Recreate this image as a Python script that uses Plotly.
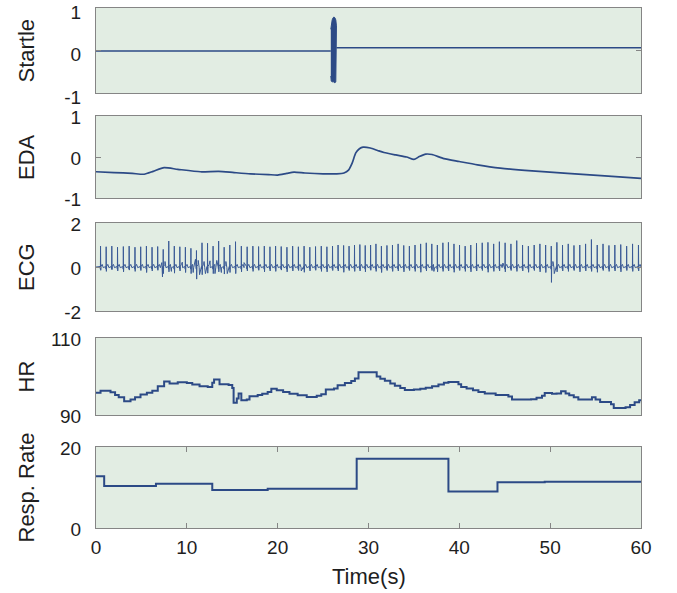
import plotly.graph_objects as go

# ---------------- data ----------------
# Startle: baseline segments and the burst envelope
startle_pre_t = [0, 25.85]
startle_pre_v = [-0.01, -0.01]
startle_post_t = [26.47, 60]
startle_post_v = [0.065, 0.065]
burst_t = [25.85, 25.9, 26.0, 26.1, 26.2, 26.3, 26.4, 26.47]
burst_up = [0.50, 0.62, 0.72, 0.77, 0.79, 0.77, 0.72, 0.58]
burst_lo = [-0.60, -0.72, -0.74, -0.73, -0.75, -0.76, -0.74, -0.65]

# EDA
eda_t = [0, 2, 4, 5.3, 6.3, 7.5, 9, 11.5, 13.5, 15.2, 17, 19, 20, 21, 21.8, 23, 25,
         26.5, 27.3, 27.8, 28.2, 28.6, 29.0, 29.4, 30.2, 31.0, 31.7, 33, 34.2, 35.0,
         35.6, 36.3, 37.0, 38.3, 40, 42, 44.5, 48, 51.9, 56, 60]
eda_v = [-0.36, -0.38, -0.40, -0.42, -0.35, -0.26, -0.30, -0.36, -0.35, -0.38, -0.41,
         -0.43, -0.44, -0.40, -0.37, -0.39, -0.41, -0.41, -0.39, -0.32, -0.15, 0.10,
         0.20, 0.24, 0.22, 0.16, 0.11, 0.05, 0.00, -0.06, 0.01, 0.07, 0.06, -0.04,
         -0.11, -0.19, -0.27, -0.34, -0.40, -0.46, -0.52]

# ECG: R-peak times, R amplitudes, S depths, and artifact points
beat_t = [0.50, 1.12, 1.74, 2.37, 3.01, 3.65, 4.29, 4.92, 5.55, 6.17, 6.79, 7.40, 8.01,
          8.62, 9.23, 9.84, 10.45, 11.06, 11.67, 12.28, 12.89, 13.50, 14.11, 14.73,
          15.36, 16.00, 16.64, 17.27, 17.90, 18.53, 19.15, 19.77, 20.39, 21.02, 21.65,
          22.28, 22.91, 23.54, 24.17, 24.80, 25.42, 26.04, 26.65, 27.26, 27.86, 28.46,
          29.05, 29.64, 30.23, 30.82, 31.42, 32.03, 32.64, 33.26, 33.88, 34.50, 35.12,
          35.74, 36.36, 36.97, 37.58, 38.19, 38.80, 39.41, 40.02, 40.64, 41.26, 41.89,
          42.52, 43.15, 43.78, 44.41, 45.04, 45.68, 46.32, 46.96, 47.60, 48.24, 48.87,
          49.50, 50.12, 50.74, 51.36, 51.99, 52.62, 53.26, 53.90, 54.54, 55.18, 55.82,
          56.47, 57.12, 57.77, 58.42, 59.07, 59.72]
beat_amp = [0.95, 0.92, 0.95, 0.90, 0.93, 0.95, 0.90, 0.92, 0.95, 0.90, 0.93, 0.80, 1.18,
            0.95, 0.92, 0.90, 0.85, 0.75, 1.10, 1.08, 0.95, 1.18, 0.90, 1.00, 1.15, 0.95,
            0.92, 0.95, 0.93, 0.95, 0.92, 0.95, 0.93, 0.90, 0.95, 0.92, 0.95, 0.90, 0.93,
            0.95, 0.92, 0.95, 1.00, 0.98, 0.95, 1.00, 1.02, 0.98, 1.00, 1.05, 0.95, 0.98,
            1.00, 1.05, 0.98, 0.95, 1.00, 1.05, 1.10, 1.05, 1.00, 1.10, 1.12, 1.05, 1.00,
            0.95, 1.00, 1.08, 1.10, 1.12, 1.05, 1.15, 1.10, 1.05, 1.20, 1.00, 0.95, 1.00,
            1.05, 1.00, 0.95, 1.12, 1.00, 1.05, 0.98, 1.00, 1.05, 1.25, 1.00, 1.05, 0.98,
            1.00, 1.02, 0.95, 1.05, 1.00]
beat_s = [0.15, 0.20, 0.12, 0.18, 0.22, 0.14, 0.20, 0.16, 0.25, 0.18, 0.15, 0.30, 0.22,
          0.28, 0.18, 0.25, 0.30, 0.55, 0.35, 0.28, 0.30, 0.22, 0.32, 0.25, 0.30, 0.22,
          0.18, 0.20, 0.15, 0.22, 0.18, 0.20, 0.14, 0.22, 0.18, 0.16, 0.24, 0.18, 0.15,
          0.20, 0.22, 0.16, 0.18, 0.24, 0.16, 0.20, 0.18, 0.22, 0.15, 0.20, 0.25, 0.16,
          0.20, 0.18, 0.22, 0.16, 0.20, 0.24, 0.18, 0.16, 0.22, 0.20, 0.18, 0.24, 0.16,
          0.20, 0.22, 0.18, 0.16, 0.24, 0.20, 0.18, 0.22, 0.16, 0.20, 0.18, 0.24, 0.16,
          0.22, 0.25, 0.70, 0.22, 0.18, 0.20, 0.16, 0.22, 0.18, 0.20, 0.24, 0.16, 0.20,
          0.18, 0.22, 0.16, 0.20, 0.18]
art_t = [7.25, 7.32, 7.60, 8.30, 9.50, 10.70, 10.95, 11.25, 11.40, 11.90, 12.05, 12.55,
         13.10, 13.30, 13.80, 14.30, 14.45, 16.30, 22.60, 37.20, 44.80, 50.30, 50.45]
art_v = [0.20, -0.45, 0.25, -0.20, 0.22, -0.25, 0.35, 0.30, -0.35, 0.25, -0.30, 0.28,
         -0.30, 0.30, -0.25, 0.25, -0.30, 0.20, -0.18, -0.20, 0.18, 0.25, -0.30]

# Heart rate (step)
hr_t = [0, 0.5, 1.6, 2.1, 2.5, 3.1, 3.8, 4.3, 4.9, 5.6, 6.2, 6.8, 7.5, 8.1, 9.0, 10.0,
        10.6, 11.4, 12.3, 12.8, 13.0, 13.6, 14.6, 15.0, 15.15, 15.5, 15.7, 16.0, 16.6,
        16.9, 17.8, 18.3, 18.9, 19.3, 19.9, 20.6, 21.3, 22.2, 23.2, 24.3, 24.8, 25.3,
        26.2, 26.6, 27.4, 28.1, 28.5, 28.9, 30.9, 31.3, 31.8, 32.4, 32.9, 33.5, 34.0,
        35.0, 35.7, 36.3, 37.0, 37.7, 38.3, 38.8, 39.9, 40.2, 40.8, 41.5, 42.1, 42.8,
        44.0, 45.4, 45.8, 47.9, 48.5, 49.1, 49.4, 50.2, 50.7, 51.2, 51.7, 52.1, 52.6,
        53.1, 54.6, 55.0, 55.5, 56.7, 57.0, 58.3, 58.8, 59.3, 59.8, 60]
hr_v = [95.8, 96.3, 95.9, 95.2, 94.6, 93.6, 94.0, 94.6, 95.3, 95.8, 96.3, 97.5, 98.7,
        98.2, 98.5, 98.3, 97.9, 97.5, 97.3, 98.4, 99.2, 98.0, 97.8, 97.0, 93.2, 94.3,
        95.6, 93.8, 94.0, 94.9, 95.2, 95.5, 96.0, 96.8, 96.4, 96.0, 95.5, 95.1, 94.7,
        95.0, 95.4, 96.6, 96.9, 97.7, 98.3, 98.8, 99.5, 101.1, 100.0, 99.4, 98.9, 98.2,
        97.6, 97.0, 96.5, 96.6, 96.8, 97.1, 97.5, 97.9, 98.4, 98.6, 98.0, 97.3, 96.9,
        96.4, 96.0, 95.6, 95.2, 94.8, 94.0, 94.1, 94.5, 95.0, 95.7, 95.5, 95.6, 96.2,
        95.6, 95.1, 94.6, 94.0, 94.6, 94.0, 93.4, 92.8, 91.8, 92.0, 92.6, 93.3, 93.8,
        93.8]

# Respiration rate (step)
resp_t = [0, 0.9, 6.6, 12.8, 18.9, 28.7, 38.8, 44.2, 49.4, 60]
resp_v = [12.8, 10.4, 10.9, 9.4, 9.7, 17.1, 9.0, 11.3, 11.4, 11.4]

panel_titles = ["Startle", "EDA", "ECG", "HR", "Resp. Rate"]
y_ranges = [[-1, 1], [-1, 1], [-2, 2], [90, 110], [0, 20]]
y_ticks = [[-1, 0, 1], [-1, 0, 1], [-2, 0, 2], [90, 110], [0, 20]]
y_ticklabels = [["-1", "0", "1"], ["-1", "0", "1"], ["-2", "0", "2"], ["90", "110"], ["0", "20"]]
x_ticks = [0, 10, 20, 30, 40, 50, 60]
x_ticklabels = ["0", "10", "20", "30", "40", "50", "60"]

# ---------------- styling ----------------
W, H = 677, 593
LINE = "#2c4a86"
BG = "#e2ede3"
BORDER = "#858585"
TXT = "#1e1e1e"
FONT = "Liberation Sans, Arial, sans-serif"

x_dom = [96 / W, 641 / W]
px_rows = [(8, 93), (116, 198), (223, 311), (338, 415), (447, 528)]
y_doms = [[1 - b / H, 1 - t / H] for (t, b) in px_rows]
label_shift = [4, 1, 1, 1, 1]

fig = go.Figure()

# ECG line assembled from the beat table
pts = []
for t, a, s in zip(beat_t, beat_amp, beat_s):
    pts += [(t - 0.06, 0.02), (t - 0.015, -0.10), (t, a), (t + 0.022, -s),
            (t + 0.05, 0.03), (t + 0.18, 0.12), (t + 0.30, -0.03)]
pts += list(zip(art_t, art_v))
pts = [(0, 0.0)] + sorted(p for p in pts if 0 <= p[0] <= 60) + [(60, 0.0)]
ecg_x = [p[0] for p in pts]
ecg_y = [p[1] for p in pts]

# Startle
fig.add_trace(go.Scatter(x=startle_pre_t, y=startle_pre_v, mode="lines",
                         line=dict(color=LINE, width=1.5), xaxis="x", yaxis="y"))
fig.add_trace(go.Scatter(x=startle_post_t, y=startle_post_v, mode="lines",
                         line=dict(color=LINE, width=1.5), xaxis="x", yaxis="y"))
fig.add_trace(go.Scatter(x=burst_t + burst_t[::-1], y=burst_up + burst_lo[::-1],
                         mode="lines", fill="toself", fillcolor=LINE,
                         line=dict(color=LINE, width=1), xaxis="x", yaxis="y"))
# EDA
fig.add_trace(go.Scatter(x=eda_t, y=eda_v, mode="lines",
                         line=dict(color=LINE, width=1.7, shape="spline", smoothing=0.6),
                         xaxis="x2", yaxis="y2"))
# ECG
fig.add_trace(go.Scatter(x=ecg_x, y=ecg_y, mode="lines",
                         line=dict(color="#3a5a96", width=1), xaxis="x3", yaxis="y3"))
# HR
fig.add_trace(go.Scatter(x=hr_t, y=hr_v, mode="lines",
                         line=dict(color=LINE, width=2, shape="hv"), xaxis="x4", yaxis="y4"))
# Resp
fig.add_trace(go.Scatter(x=resp_t, y=resp_v, mode="lines",
                         line=dict(color=LINE, width=2, shape="hv"), xaxis="x5", yaxis="y5"))

layout = dict(
    width=W, height=H, margin=dict(l=0, r=0, t=0, b=0, autoexpand=False),
    paper_bgcolor="white", plot_bgcolor=BG, showlegend=False,
    font=dict(family=FONT, size=19, color=TXT),
)
for i in range(5):
    n = "" if i == 0 else str(i + 1)
    last = (i == 4)
    layout["xaxis" + n] = dict(
        domain=x_dom, anchor="y" + n, range=[0, 60],
        showline=True, linecolor=BORDER, linewidth=1, mirror="ticks" if last else True,
        showgrid=False, zeroline=False,
        ticks="inside" if last else "", ticklen=5, tickcolor=BORDER,
        tickmode="array", tickvals=x_ticks if last else [],
        ticktext=x_ticklabels if last else [], showticklabels=last,
        ticklabelstandoff=2, ticklabeloverflow="allow",
        tickfont=dict(family=FONT, size=19, color=TXT),
    )
    layout["yaxis" + n] = dict(
        domain=y_doms[i], anchor="x" + n, range=y_ranges[i],
        showline=True, linecolor=BORDER, linewidth=1, mirror="ticks",
        showgrid=False, zeroline=False,
        ticks="inside", ticklen=5, tickcolor=BORDER,
        tickmode="array", tickvals=y_ticks[i], ticktext=y_ticklabels[i],
        ticklabelstandoff=10, ticklabelshift=label_shift[i], ticklabeloverflow="allow",
        tickfont=dict(family=FONT, size=19, color=TXT),
    )

annotations = []
for i, title in enumerate(panel_titles):
    annotations.append(dict(
        text=title, xref="paper", yref="paper", x=26 / W,
        y=(y_doms[i][0] + y_doms[i][1]) / 2, xanchor="center", yanchor="middle",
        textangle=-90, showarrow=False, font=dict(family=FONT, size=22, color=TXT)))
annotations.append(dict(
    text="Time(s)", xref="paper", yref="paper", x=(x_dom[0] + x_dom[1]) / 2,
    y=1 - 576 / H, xanchor="center", yanchor="middle", showarrow=False,
    font=dict(family=FONT, size=22, color=TXT)))
layout["annotations"] = annotations

fig.update_layout(**layout)
fig.write_html("out.html", config={"displayModeBar": False},
               post_script="document.body.style.margin='0';document.body.style.overflow='hidden';")
